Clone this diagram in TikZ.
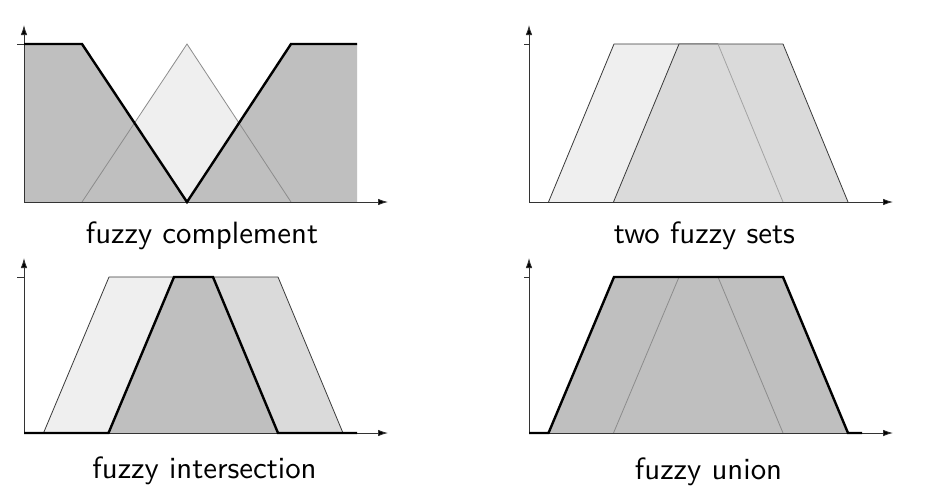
\documentclass[tikz,border=0pt]{standalone}
\usepackage{fontspec}
\newfontfamily\capfont{lmsans10-regular}[Extension=.otf]
\usetikzlibrary{arrows.meta}
\definecolor{setA}{HTML}{EFEFEF}
\definecolor{setB}{HTML}{DADADA}
\definecolor{setC}{HTML}{BFBFBF}
\definecolor{edgeD}{HTML}{3A3A3A}
\definecolor{edgeM}{HTML}{8C8C8C}
\tikzset{
  thinedge/.style={draw=edgeD, line width=0.8pt, line join=round},
  inneredge/.style={draw=edgeM, line width=0.8pt},
  thickline/.style={draw=black, line width=2.4pt, line join=miter},
  axisline/.style={draw=black!80, line width=0.8pt, -{Latex[length=10pt,width=6.5pt,fill=black]}},
  tickline/.style={draw=black!80, line width=0.8pt},
  caption/.style={font=\fontsize{30.8}{36}\selectfont\capfont, anchor=base, inner sep=0pt},
}
\begin{document}
\begin{tikzpicture}[x=1pt,y=-1pt]
\useasboundingbox[fill=white] (0,0) rectangle (934,501);

% ---------- panel 1: fuzzy complement ----------
\begin{scope}[shift={(24,202)},yscale=-1]
  \def\h{158}
  \fill[setA] (58,0) -- (163,\h) -- (267,0) -- cycle;
  \fill[setC] (0,0) -- (0,\h) -- (58,\h) -- (163,0) -- (267,\h) -- (333,\h) -- (333,0) -- cycle;
  \draw[inneredge] (58,0) -- (163,\h) -- (267,0);
  \draw[axisline] (0,0) -- (0,177);
  \draw[axisline] (0,0) -- (364,0);
  \draw[tickline] (-7,\h) -- (0,\h);
  \draw[thickline] (0,\h) -- (58,\h) -- (163,0) -- (267,\h) -- (333,\h);
\end{scope}

% ---------- panel 2: two fuzzy sets ----------
\begin{scope}[shift={(529,202)},yscale=-1]
  \def\h{158}
  \fill[setA] (19.5,0) -- (85,\h) -- (189,\h) -- (254,0) -- cycle;
  \draw[thinedge] (19.5,0) -- (85,\h) -- (189,\h) -- (254,0);
  \fill[setB] (84.5,0) -- (150,\h) -- (254,\h) -- (319,0) -- cycle;
  \draw[thinedge] (84.5,0) -- (150,\h) -- (254,\h) -- (319,0);
  \draw[inneredge, draw=edgeM!80] (189,\h) -- (254,0);
  \draw[axisline] (0,0) -- (0,177);
  \draw[axisline] (0,0) -- (364,0);
  \draw[tickline] (-5,\h) -- (0,\h);
\end{scope}

% ---------- panel 3: fuzzy intersection ----------
\begin{scope}[shift={(24,433)},yscale=-1]
  \def\h{156}
  \fill[setA] (19.5,0) -- (85,\h) -- (189,\h) -- (254,0) -- cycle;
  \fill[setB] (84.5,0) -- (150,\h) -- (254,\h) -- (319,0) -- cycle;
  \fill[setC] (84.5,0) -- (150,\h) -- (189,\h) -- (254,0) -- cycle;
  \draw[thinedge] (19.5,0) -- (85,\h) -- (189,\h);
  \draw[thinedge] (150,\h) -- (254,\h) -- (319,0);
  \draw[axisline] (0,0) -- (0,175);
  \draw[axisline] (0,0) -- (364,0);
  \draw[tickline] (-7,\h) -- (0,\h);
  \draw[thickline] (0,0) -- (84.5,0) -- (150,\h) -- (189,\h) -- (254,0) -- (333,0);
\end{scope}

% ---------- panel 4: fuzzy union ----------
\begin{scope}[shift={(529,433)},yscale=-1]
  \def\h{156}
  \fill[setC] (19.5,0) -- (85,\h) -- (254,\h) -- (319,0) -- cycle;
  \draw[inneredge] (84.5,0) -- (150,\h);
  \draw[inneredge] (189,\h) -- (254,0);
  \draw[axisline] (0,0) -- (0,175);
  \draw[axisline] (0,0) -- (364,0);
  \draw[tickline] (-5,\h) -- (0,\h);
  \draw[thickline] (0,0) -- (19.5,0) -- (85,\h) -- (254,\h) -- (319,0) -- (333,0);
\end{scope}

% ---------- captions ----------
\node[caption] (capA) at (202,243) {fuzzy complement};
\node[caption] (capB) at (704.5,243) {two fuzzy sets};
\node[caption] (capC) at (204.5,478) {fuzzy intersection};
\node[caption] (capD) at (708.5,479) {fuzzy union};
\end{tikzpicture}
\end{document}
